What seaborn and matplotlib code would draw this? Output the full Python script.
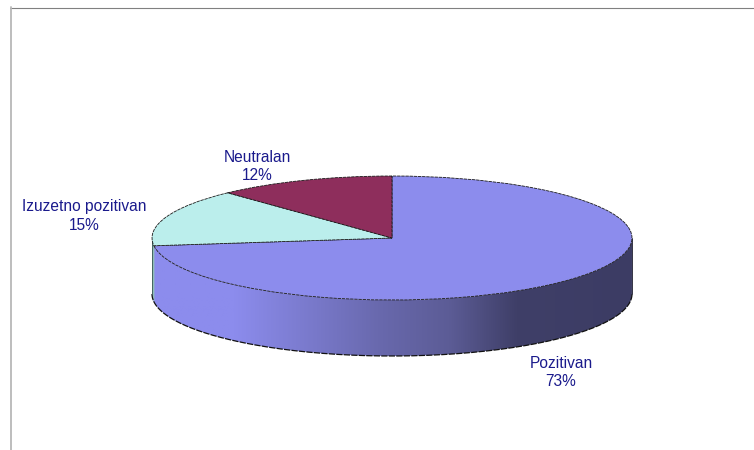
import numpy as np
import seaborn as sns
import matplotlib.pyplot as plt
from matplotlib.colors import LinearSegmentedColormap
from matplotlib.patches import PathPatch
from matplotlib.path import Path

labels = ["Pozitivan", "Izuzetno pozitivan", "Neutralan"]
values = [73, 15, 12]
colors = ["#8c8ced", "#bbeeec", "#8e2e5c"]

sns.set_theme(style="white")
plt.rcParams["font.family"] = ["Liberation Sans", "DejaVu Sans"]

W, H = 754, 450
fig = plt.figure(figsize=(W / 100, H / 100), dpi=100)

# pie ellipse in pixels: centre (392, 238), rx 240, ry 62, wall 56 deep
cx, cy, rx, ry = 392, 238, 240, 62
depth = 56 / ry
ax = fig.add_axes([(cx - rx) / W, 1 - (cy + ry + 56) / H, 2 * rx / W, (2 * ry + 56) / H])

# side wall with the horizontal shading
shade = LinearSegmentedColormap.from_list("wall", [
    (0.00, "#8c8ced"), (0.17, "#8c8ced"), (0.48, "#6868ac"),
    (0.62, "#5c5c96"), (0.76, "#3f3f68"), (1.00, "#3c3c64")])
t = np.linspace(np.pi, 2 * np.pi, 200)
top_x, top_y = np.cos(t), np.sin(t)
wall = np.r_[np.c_[top_x, top_y], np.c_[top_x[::-1], top_y[::-1] - depth], [[top_x[0], top_y[0]]]]
img = ax.imshow(np.linspace(0, 1, 256)[None, :], extent=[-1, 1, -1 - depth, 0],
                cmap=shade, aspect="auto", zorder=1)
clip = PathPatch(Path(wall), transform=ax.transData, fc="none", ec="none")
ax.add_patch(clip)
img.set_clip_path(clip)

# small teal piece of the wall under the Izuzetno slice
edge_t = np.linspace(np.pi, np.pi + 2 * np.pi * 0.02, 10)
ax.fill_between(np.cos(edge_t), np.sin(edge_t) - depth, np.sin(edge_t),
                color="#8fbdb8", lw=0, zorder=2)

# wall outline
ax.plot(top_x, top_y - depth, color="#111111", lw=0.9, ls=(0, (5, 1)), zorder=3, clip_on=False)
ax.plot([1, 1], [0, -depth], color="#333344", lw=0.7, zorder=3, clip_on=False)
ax.plot([-1, -1], [0, -depth], color="#446660", lw=0.7, zorder=3, clip_on=False)

wedges, _ = ax.pie(values, colors=colors, startangle=90, counterclock=False, radius=1,
                   wedgeprops=dict(edgecolor="#1a1a1a", linewidth=0.6, linestyle=(0, (4, 1)), zorder=4))
ax.set_aspect("auto")
ax.set_xlim(-1, 1)
ax.set_ylim(-1 - depth, 1)
ax.axis("off")
for w in wedges:
    w.set_clip_on(False)
    w.set_zorder(4)

# labels placed in pixel coordinates
page = fig.add_axes([0, 0, 1, 1], facecolor="none")
page.set_xlim(0, W)
page.set_ylim(H, 0)
page.axis("off")
label_pos = {"Pozitivan": (561, 373), "Izuzetno pozitivan": (84, 216), "Neutralan": (257, 167)}
for name, val in zip(labels, values):
    x, y = label_pos[name]
    page.text(x, y, f"{name}\n{val}%", color="#1a1a8c", fontsize=11.2,
              ha="center", va="center", linespacing=1.25)

# frame fragments
page.plot([10, W], [7.5, 7.5], color="#808080", lw=0.8, clip_on=False)
page.plot([10.5, 10.5], [7, H], color="#b8b8b8", lw=1.3, clip_on=False)

fig.savefig("out.png", dpi=100, facecolor="white")
